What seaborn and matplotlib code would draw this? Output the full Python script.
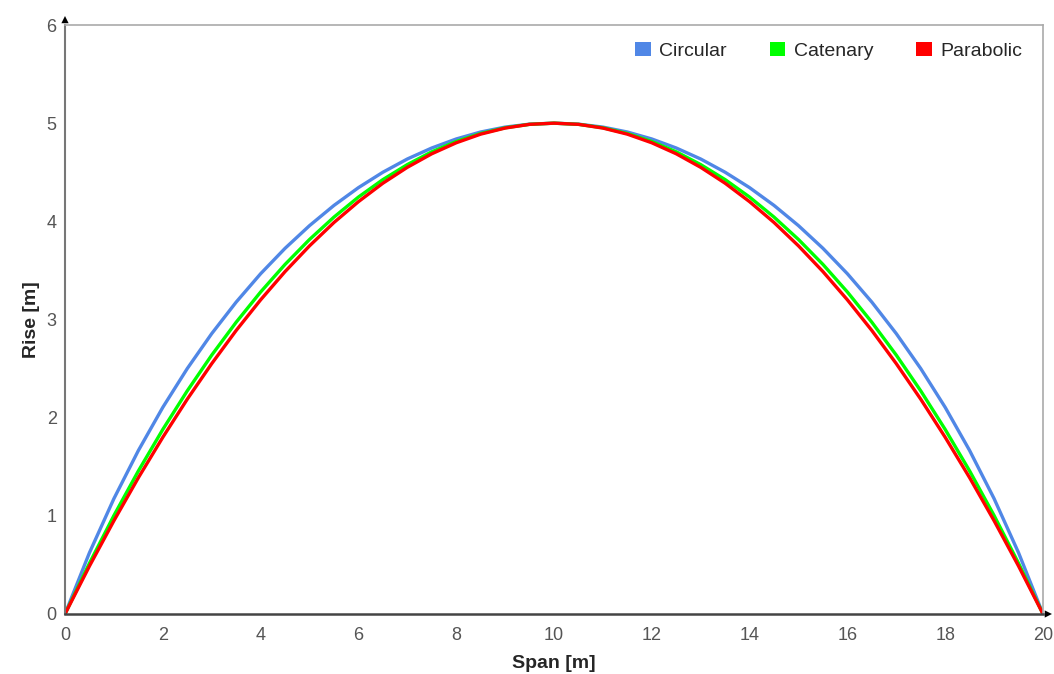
import matplotlib
matplotlib.use("Agg")
import matplotlib.pyplot as plt
import seaborn as sns
import pandas as pd
from matplotlib.patches import Patch

span = [0, 0.5, 1, 1.5, 2, 2.5, 3, 3.5, 4, 4.5, 5, 5.5, 6, 6.5, 7, 7.5, 8, 8.5, 9, 9.5, 10,
        10.5, 11, 11.5, 12, 12.5, 13, 13.5, 14, 14.5, 15, 15.5, 16, 16.5, 17, 17.5, 18, 18.5,
        19, 19.5, 20]
circular = [0.0, 0.624, 1.175, 1.665, 2.105, 2.500, 2.856, 3.177, 3.466, 3.725, 3.956,
            4.162, 4.343, 4.500, 4.635, 4.747, 4.839, 4.910, 4.960, 4.990, 5.0,
            4.990, 4.960, 4.910, 4.839, 4.747, 4.635, 4.500, 4.343, 4.162, 3.956,
            3.725, 3.466, 3.177, 2.856, 2.500, 2.105, 1.665, 1.175, 0.624, 0.0]
catenary = [0.0, 0.517, 1.003, 1.457, 1.880, 2.273, 2.637, 2.972, 3.280, 3.561, 3.815,
            4.043, 4.247, 4.425, 4.578, 4.708, 4.813, 4.895, 4.953, 4.988, 5.0,
            4.988, 4.953, 4.895, 4.813, 4.708, 4.578, 4.425, 4.247, 4.043, 3.815,
            3.561, 3.280, 2.972, 2.637, 2.273, 1.880, 1.457, 1.003, 0.517, 0.0]
parabolic = [0.0, 0.488, 0.95, 1.388, 1.80, 2.188, 2.55, 2.888, 3.20, 3.488, 3.75,
             3.988, 4.20, 4.388, 4.55, 4.688, 4.80, 4.888, 4.95, 4.988, 5.0,
             4.988, 4.95, 4.888, 4.80, 4.688, 4.55, 4.388, 4.20, 3.988, 3.75,
             3.488, 3.20, 2.888, 2.55, 2.188, 1.80, 1.388, 0.95, 0.488, 0.0]
series_names = ["Circular", "Catenary", "Parabolic"]
x_ticks = [0, 2, 4, 6, 8, 10, 12, 14, 16, 18, 20]
y_ticks = [0, 1, 2, 3, 4, 5, 6]

df = pd.concat([
    pd.DataFrame({"Span": span, "Rise": circular, "Type": "Circular"}),
    pd.DataFrame({"Span": span, "Rise": catenary, "Type": "Catenary"}),
    pd.DataFrame({"Span": span, "Rise": parabolic, "Type": "Parabolic"}),
])

sns.set_style("white")
plt.rcParams["font.family"] = ["Liberation Sans", "DejaVu Sans"]

palette = {"Circular": "#5087E6", "Catenary": "#00FF00", "Parabolic": "#FF0000"}

fig = plt.figure(figsize=(10.54, 6.74), dpi=100)
ax = fig.add_axes([65 / 1054, 1 - 614 / 674, (1043 - 65) / 1054, (614 - 25) / 674])

sns.lineplot(data=df, x="Span", y="Rise", hue="Type", hue_order=series_names,
             palette=palette, linewidth=2.4, ax=ax, sort=False, legend=False)

ax.set_xlim(0, 20)
ax.set_ylim(0, 6)
ax.set_xticks(x_ticks)
ax.set_yticks(y_ticks)
ax.tick_params(axis="both", labelsize=13, labelcolor="#555555", color="#555555",
               length=4, width=1, direction="out")
ax.tick_params(axis="x", pad=5.5)
ax.tick_params(axis="y", pad=2)

for side in ["top", "right"]:
    ax.spines[side].set_color("#AAAAAA")
    ax.spines[side].set_linewidth(1.2)
ax.spines["left"].set_color("#777777")
ax.spines["left"].set_linewidth(1.5)
ax.spines["bottom"].set_color("#444444")
ax.spines["bottom"].set_linewidth(1.8)

ax.set_xlabel("Span [m]", fontsize=14, fontweight="bold", labelpad=8)
ax.set_ylabel("Rise [m]", fontsize=14, fontweight="bold", labelpad=5)

# axis arrows
ax.annotate("", xy=(0, 1.02), xytext=(0, 0.99), xycoords="axes fraction",
            arrowprops=dict(arrowstyle="-|>", color="black", lw=0, mutation_scale=13))
ax.annotate("", xy=(1.012, 0), xytext=(0.995, 0), xycoords="axes fraction",
            arrowprops=dict(arrowstyle="-|>", color="black", lw=0, mutation_scale=13))

handles = [Patch(facecolor=palette[n], edgecolor="none", label=n) for n in series_names]
ax.legend(handles=handles, loc="upper right", ncol=3, frameon=False, fontsize=14,
          handlelength=0.8, handleheight=0.8, handletextpad=0.45, columnspacing=2.2,
          bbox_to_anchor=(0.993, 0.995), borderaxespad=0.3)

fig.savefig("out.png", dpi=100)
